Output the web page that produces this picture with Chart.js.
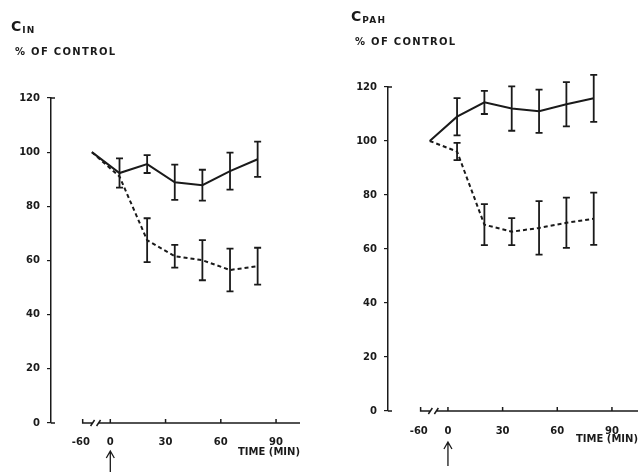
<!DOCTYPE html>
<html>
<head>
<meta charset="utf-8">
<script src="https://cdn.jsdelivr.net/npm/chart.js@4.4.1/dist/chart.umd.min.js"></script>
<style>
  html, body { margin: 0; padding: 0; background: #fff; }
  #wrap { position: relative; width: 638px; height: 472px; overflow: hidden; }
  canvas { position: absolute; top: 0; }
  #cin { left: 0; }
  #cpah { left: 320px; }
  .lbl { position: absolute; font-family: "DejaVu Sans", sans-serif; font-weight: bold; color: #1a1a1a; white-space: nowrap; }
  .big { font-size: 14px; letter-spacing: 1px; }
  .big sub { font-size: 9px; vertical-align: -2px; letter-spacing: 1.2px; }
  .pct { font-size: 10px; letter-spacing: 1.3px; }
</style>
</head>
<body>
<div id="wrap">
  <canvas id="cin" width="320" height="472"></canvas>
  <canvas id="cpah" width="318" height="472"></canvas>
  <div class="lbl big" style="left:11px;top:18px">C<sub>IN</sub></div>
  <div class="lbl pct" style="left:15px;top:46px">% OF CONTROL</div>
  <div class="lbl big" style="left:351px;top:8px">C<sub>PAH</sub></div>
  <div class="lbl pct" style="left:355px;top:36px">% OF CONTROL</div>
</div>
<script>
// sampling times (min); first point is the control value
var times = [-10, 5, 20, 35, 50, 65, 80];
// broken time axis: the "-60" label sits just left of the break
var xTickVals = [-16, 0, 30, 60, 90];
var xTickLabels = ['-60', '0', '30', '60', '90'];

var cinSolid = [100, 92.3, 95.6, 88.9, 87.8, 93, 97.4];
var cinSolidErr = [0, 5.4, 3.3, 6.5, 5.7, 6.8, 6.5];
var cinDashed = [100, 91, 67.5, 61.6, 60.1, 56.5, 57.9];
var cinDashedErr = [0, 0, 8.1, 4.2, 7.4, 7.9, 6.8];

var cpahSolid = [100, 109, 114.3, 112, 111, 113.6, 115.8];
var cpahSolidErr = [0, 6.9, 4.3, 8.2, 8.0, 8.2, 8.7];
var cpahDashed = [100, 96.1, 69, 66.4, 67.8, 69.7, 71.2];
var cpahDashedErr = [0, 3.2, 7.6, 5, 9.9, 9.3, 9.7];

var ink = '#1a1a1a';
var tickFont = { family: '"DejaVu Sans", sans-serif', size: 10, weight: 'bold' };

function points(vals) {
    return times.map(function (t, i) { return { x: t, y: vals[i] }; });
}

// vertical error bars with caps, placed through the chart scales
var errorBars = {
    id: 'errorBars',
    afterDatasetsDraw: function (chart) {
        var ctx = chart.ctx, xs = chart.scales.x, ys = chart.scales.y;
        ctx.save();
        ctx.strokeStyle = ink;
        ctx.lineWidth = 1.8;
        chart.data.datasets.forEach(function (ds) {
            ds.errors.forEach(function (e, i) {
                if (!e) return;
                var p = ds.data[i];
                var x = xs.getPixelForValue(p.x);
                var top = ys.getPixelForValue(p.y + e);
                var bot = ys.getPixelForValue(p.y - e);
                ctx.beginPath();
                ctx.moveTo(x, top); ctx.lineTo(x, bot);
                ctx.moveTo(x - 3.5, top); ctx.lineTo(x + 3.5, top);
                ctx.moveTo(x - 3.5, bot); ctx.lineTo(x + 3.5, bot);
                ctx.stroke();
            });
        });
        ctx.restore();
    }
};

// hand-drawn looking time axis with a break, plus the arrow at t = 0
var timeAxis = {
    id: 'timeAxis',
    afterDraw: function (chart, args, opts) {
        var ctx = chart.ctx, xs = chart.scales.x, a = chart.chartArea;
        var y = a.bottom;
        var x0 = xs.getPixelForValue(-15);
        var xb = xs.getPixelForValue(-8);
        ctx.save();
        ctx.strokeStyle = ink;
        ctx.lineWidth = 1.5;
        ctx.beginPath();
        ctx.moveTo(x0, y - 4); ctx.lineTo(x0, y); ctx.lineTo(xb - 3, y);
        ctx.moveTo(xb + 3, y); ctx.lineTo(a.right, y);
        ctx.moveTo(xb - 5, y + 3); ctx.lineTo(xb - 1, y - 3);
        ctx.moveTo(xb + 1, y + 3); ctx.lineTo(xb + 5, y - 3);
        xTickVals.forEach(function (v) {
            if (v < 0) return;
            var x = xs.getPixelForValue(v);
            ctx.moveTo(x, y); ctx.lineTo(x, y - 4);
        });
        // y axis foot and top hook
        ctx.moveTo(a.left, a.bottom); ctx.lineTo(a.left + 4, a.bottom);
        ctx.moveTo(a.left, a.top); ctx.lineTo(a.left + 4, a.top);
        ctx.stroke();

        var xa = xs.getPixelForValue(0);
        ctx.lineWidth = 1.3;
        ctx.beginPath();
        ctx.moveTo(xa, opts.arrowTop); ctx.lineTo(xa, opts.arrowBottom);
        ctx.moveTo(xa - 4, opts.arrowTop + 7); ctx.lineTo(xa, opts.arrowTop); ctx.lineTo(xa + 4, opts.arrowTop + 7);
        ctx.stroke();
        ctx.restore();
    }
};

function makeChart(id, solid, solidErr, dashed, dashedErr, box) {
    var ctx = document.getElementById(id).getContext('2d');
    return new Chart(ctx, {
        type: 'line',
        data: {
            datasets: [{
                data: points(solid),
                errors: solidErr,
                borderColor: ink,
                borderWidth: 2,
                pointRadius: 0,
                tension: 0
            }, {
                data: points(dashed),
                errors: dashedErr,
                borderColor: ink,
                borderWidth: 2,
                borderDash: [4, 3],
                pointRadius: 0,
                tension: 0
            }]
        },
        options: {
            responsive: false,
            animation: false,
            devicePixelRatio: 1,
            layout: { padding: { left: 0, top: box.top, right: box.right, bottom: 0 } },
            plugins: {
                legend: { display: false },
                tooltip: { enabled: false },
                timeAxis: { arrowTop: box.arrowTop, arrowBottom: box.arrowBottom }
            },
            scales: {
                x: {
                    type: 'linear',
                    min: box.xMin,
                    max: box.xMax,
                    grid: { display: false },
                    border: { display: false },
                    afterBuildTicks: function (s) {
                        s.ticks = xTickVals.map(function (v) { return { value: v }; });
                    },
                    afterFit: function (s) { s.height = box.xHeight; },
                    ticks: {
                        autoSkip: false,
                        maxRotation: 0,
                        padding: box.xPad,
                        color: ink,
                        font: tickFont,
                        callback: function (v) { return xTickLabels[xTickVals.indexOf(v)]; }
                    },
                    title: {
                        display: true,
                        text: 'TIME (MIN)',
                        align: 'end',
                        color: ink,
                        font: tickFont,
                        padding: { top: 0, bottom: box.titlePad }
                    }
                },
                y: {
                    min: 0,
                    max: 120,
                    afterFit: function (s) { s.width = box.yWidth; },
                    border: { display: true, color: ink, width: 1.5 },
                    grid: { drawOnChartArea: false, drawTicks: true, tickLength: 4, color: ink, lineWidth: 1.2 },
                    ticks: { stepSize: 20, padding: 7, color: ink, font: tickFont }
                }
            }
        },
        plugins: [errorBars, timeAxis]
    });
}

makeChart('cin', cinSolid, cinSolidErr, cinDashed, cinDashedErr, {
    yWidth: 51, top: 98, right: 20, xHeight: 49, xPad: 5, titlePad: 14,
    xMin: -32.2, xMax: 103, arrowTop: 451, arrowBottom: 472
});
makeChart('cpah', cpahSolid, cpahSolidErr, cpahDashed, cpahDashedErr, {
    yWidth: 68, top: 87, right: 0, xHeight: 61, xPad: 6, titlePad: 27,
    xMin: -32.9, xMax: 104.3, arrowTop: 442, arrowBottom: 466
});
</script>
</body>
</html>
